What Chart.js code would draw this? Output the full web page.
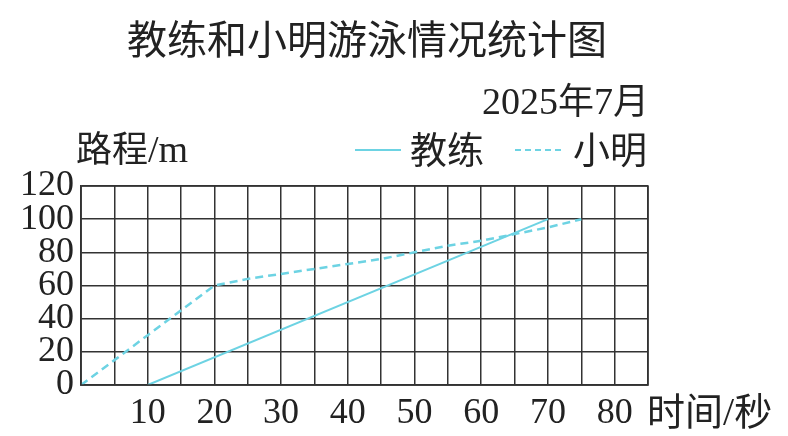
<!DOCTYPE html>
<html>
<head>
<meta charset="utf-8">
<script src="https://cdn.jsdelivr.net/npm/chart.js@4"></script>
<style>
  html, body { margin: 0; padding: 0; background: #fff; }
  #wrap { position: relative; width: 788px; height: 436px; overflow: hidden; }
  #myChart { position: absolute; left: 0; top: 0; }
  .txt { position: absolute; color: #222; white-space: nowrap; line-height: 1; }
  .cjk { font-family: "Noto Sans CJK SC", sans-serif; }
  .num { font-family: "Liberation Serif", serif; }
  .key { position: absolute; width: 46px; height: 0; border-top: 2px solid #6dd3e3; }
</style>
</head>
<body>
<div id="wrap">
  <canvas id="myChart" width="788" height="436"></canvas>
  <div class="txt cjk" style="left:127px; top:17px; font-size:40px;">教练和小明游泳情况统计图</div>
  <div class="txt" style="left:482px; top:80px; font-size:38px;"><span class="num">2025</span><span class="cjk" style="font-size:36px;">年</span><span class="num">7</span><span class="cjk" style="font-size:36px;">月</span></div>
  <div class="txt" style="left:76px; top:128px; font-size:36px;"><span class="cjk">路程</span><span class="num" style="font-size:38px;">/m</span></div>
  <div class="key" style="left:355px; top:149px;"></div>
  <div class="txt cjk" style="left:410px; top:130px; font-size:37px;">教练</div>
  <div class="key" style="left:515px; top:149px; border-top-style:dashed;"></div>
  <div class="txt cjk" style="left:573px; top:130px; font-size:37px;">小明</div>
  <div class="txt cjk" style="left:647px; top:390px; font-size:38px;">时间<span class="num" style="font-size:40px;">/</span>秒</div>
</div>
<script>
/** 教练和小明游泳情况统计图 */
const coachTime = [10, 70];
const coachDist = [0, 100];
const xmTime = [0, 5, 10, 15, 20, 25, 30, 35, 40, 45, 50, 55, 60, 65, 70, 75];
const xmDist = [0, 15, 30, 45, 60, 64, 67, 70, 73, 76, 80, 84, 87, 91, 95, 100];
const xTickLabels = [10, 20, 30, 40, 50, 60, 70, 80];
const yTickLabels = [0, 20, 40, 60, 80, 100, 120];

const lineColor = '#6dd3e3';
const gridColor = '#333';

const ctx = document.getElementById('myChart').getContext('2d');
const myChart = new Chart(ctx, {
  type: 'line',
  data: {
    datasets: [
      {
        label: '教练',
        data: coachTime.map((t, i) => ({ x: t, y: coachDist[i] })),
        borderColor: lineColor,
        borderWidth: 2,
        pointRadius: 0,
        fill: false,
      },
      {
        label: '小明',
        data: xmTime.map((t, i) => ({ x: t, y: xmDist[i] })),
        borderColor: lineColor,
        borderWidth: 2.5,
        borderDash: [8, 5],
        pointRadius: 0,
        tension: 0,
        fill: false,
      },
    ],
  },
  options: {
    responsive: false,
    animation: false,
    layout: {
      padding: {
        left: 0,
        right: 140,
        top: 186,
        bottom: 0,
      },
    },
    plugins: {
      legend: { display: false },
      tooltip: { enabled: false },
    },
    scales: {
      x: {
        type: 'linear',
        min: 0,
        max: 85,
        afterFit: (s) => { s.height = 51; },
        afterBuildTicks: (s) => {
          s.ticks = [];
          for (let v = 0; v <= 85; v += 5) s.ticks.push({ value: v });
        },
        ticks: {
          autoSkip: false,
          maxRotation: 0,
          padding: 7,
          color: '#222',
          font: { family: 'Liberation Serif', size: 36 },
          callback: (v) => (xTickLabels.includes(v) ? String(v) : ''),
        },
        grid: { color: gridColor, lineWidth: 1.5, drawTicks: false },
        border: { color: gridColor, width: 1.5 },
      },
      y: {
        min: 0,
        max: 120,
        afterFit: (s) => { s.width = 81; },
        afterBuildTicks: (s) => {
          s.ticks = yTickLabels.map((v) => ({ value: v }));
        },
        ticks: {
          autoSkip: false,
          padding: 7,
          color: '#222',
          font: { family: 'Liberation Serif', size: 36, lineHeight: 0.9 },
        },
        grid: { color: gridColor, lineWidth: 1.5, drawTicks: false },
        border: { color: gridColor, width: 1.5 },
      },
    },
  },
  plugins: [
    {
      // 오른쪽/위 테두리
      id: 'frame',
      afterDraw(chart) {
        const a = chart.chartArea;
        const c = chart.ctx;
        c.save();
        c.strokeStyle = gridColor;
        c.lineWidth = 1.5;
        c.strokeRect(a.left, a.top, a.right - a.left, a.bottom - a.top);
        c.restore();
      },
    },
  ],
});
</script>
</body>
</html>
